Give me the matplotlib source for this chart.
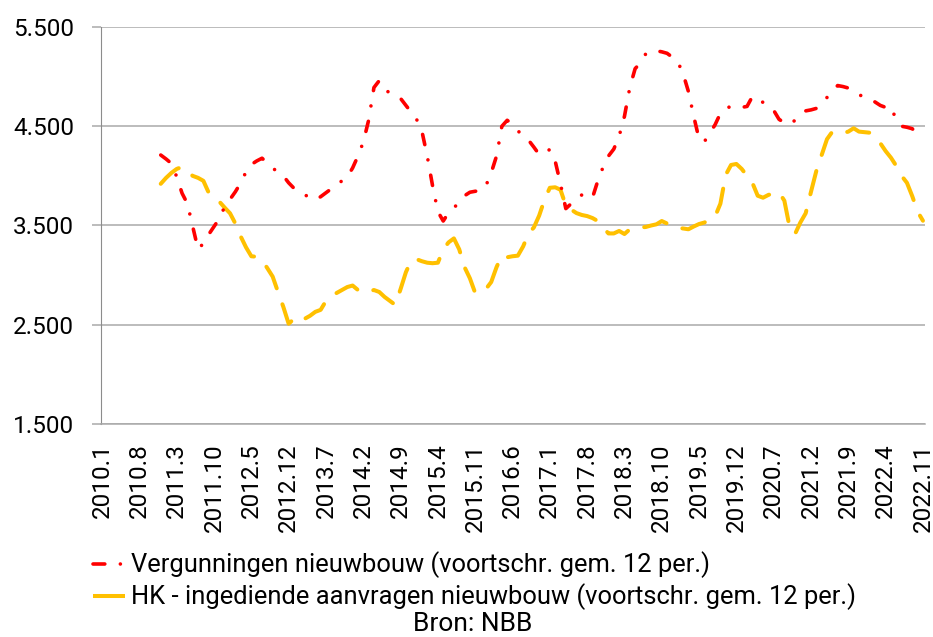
import matplotlib
matplotlib.use('Agg')
import matplotlib.pyplot as plt
from matplotlib.lines import Line2D
from matplotlib.ticker import FuncFormatter
import numpy as np

plt.rcParams['font.family'] = ['Roboto', 'DejaVu Sans']
plt.rcParams['lines.scale_dashes'] = False

# ---- data -------------------------------------------------------------
# monthly categories 2010.1 .. 2022.11 (155 months), labelled every 7th month
n_months = 155
tick_labels = ["2010.1", "2010.8", "2011.3", "2011.10", "2012.5", "2012.12",
               "2013.7", "2014.2", "2014.9", "2015.4", "2015.11", "2016.6",
               "2017.1", "2017.8", "2018.3", "2018.10", "2019.5", "2019.12",
               "2020.7", "2021.2", "2021.9", "2022.4", "2022.11"]
tick_step = 7

# both series start at 2010.12 (index 11): 12-month moving averages
series_start = 11

vergunningen = [
    4210, 4170, 4125, 3990, 3825, 3720, 3490, 3260, 3320, 3410,
    3490, 3570, 3690, 3764, 3840, 3930, 4040, 4115, 4150, 4178,
    4130, 4080, 4035, 4000, 3930, 3875, 3840, 3810, 3780, 3760,
    3790, 3830, 3870, 3910, 3950, 3990, 4080, 4200, 4340, 4560,
    4890, 4960, 4880, 4830, 4800, 4780, 4710, 4640, 4570, 4450,
    4200, 3900, 3640, 3545, 3630, 3680, 3730, 3800, 3835, 3845,
    3850, 3900, 4030, 4200, 4500, 4560, 4520, 4455, 4400, 4360,
    4290, 4215, 4240, 4265, 4150, 3920, 3670, 3720, 3770, 3808,
    3780, 3780, 3950, 4090, 4200, 4270, 4400, 4600, 4890, 5080,
    5140, 5230, 5255, 5260, 5250, 5235, 5195, 5150, 5030, 4850,
    4600, 4370, 4345, 4430, 4515, 4630, 4680, 4700, 4700, 4690,
    4700, 4800, 4780, 4740, 4700, 4660, 4570, 4535, 4520, 4560,
    4610, 4655, 4665, 4680, 4730, 4790, 4860, 4910, 4900, 4885,
    4850, 4820, 4790, 4765, 4745, 4710, 4690, 4700, 4560, 4500,
    4490, 4475, 4420, 4370]

hk_aanvragen = [
    3920, 3980, 4030, 4070, 4090, 4040, 4000, 3980, 3950, 3830,
    3770, 3740, 3680, 3623, 3520, 3390, 3280, 3190, 3185, 3150,
    3070, 2985, 2830, 2680, 2510, 2560, 2590, 2560, 2590, 2630,
    2650, 2740, 2780, 2820, 2850, 2880, 2895, 2850, 2825, 2835,
    2850, 2830, 2780, 2740, 2700, 2860, 3030, 3150, 3160, 3140,
    3125, 3120, 3125, 3260, 3330, 3370, 3260, 3080, 2968, 2820,
    2840, 2860, 2930, 3080, 3200, 3180, 3190, 3196, 3290, 3420,
    3480, 3600, 3760, 3880, 3885, 3860, 3700, 3660, 3625, 3606,
    3595, 3575, 3545, 3480, 3420, 3420, 3445, 3414, 3462, 3472,
    3480, 3485, 3500, 3512, 3545, 3520, 3490, 3475, 3470, 3462,
    3490, 3515, 3530, 3563, 3590, 3720, 4010, 4110, 4120, 4070,
    4000, 3930, 3800, 3780, 3808, 3825, 3835, 3750, 3480, 3414,
    3530, 3623, 3840, 4050, 4211, 4370, 4445, 4435, 4430, 4446,
    4480, 4446, 4440, 4435, 4400, 4329, 4250, 4183, 4100, 4000,
    3930, 3795, 3640, 3548]

label_red = "Vergunningen nieuwbouw (voortschr. gem. 12 per.)"
label_yellow = "HK - ingediende aanvragen nieuwbouw (voortschr. gem. 12 per.)"
source_text = "Bron: NBB"

yticks = [1500, 2500, 3500, 4500, 5500]

# ---- plot -------------------------------------------------------------
RED = '#FF0000'
YELLOW = '#FFC000'
GRID = '#a9a9a9'

fig = plt.figure(figsize=(9.33, 6.37), dpi=100)
ax = fig.add_axes([0.1083, 0.3344, 0.8832, 0.6232])

x_red = np.arange(series_start, series_start + len(vergunningen))
x_yel = np.arange(series_start, series_start + len(hk_aanvragen))

red_style = (0, (7.5, 11.2, 0.01, 11.2))
yel_style = (0, (17.3, 12.2))

ax.plot(x_yel, hk_aanvragen, color=YELLOW, lw=2.9, linestyle=yel_style,
        dash_capstyle='round', solid_capstyle='round', zorder=3)
ax.plot(x_red, vergunningen, color=RED, lw=2.6, linestyle=red_style,
        dash_capstyle='round', solid_capstyle='round', zorder=4)

ax.set_xlim(-0.2, 154.4)
ax.set_ylim(1500, 5500)
ax.set_yticks(yticks)
ax.yaxis.set_major_formatter(FuncFormatter(lambda v, p: f"{v:,.0f}".replace(',', '.')))
ax.set_xticks(np.arange(0, n_months, tick_step), tick_labels, rotation=90)

ax.yaxis.grid(True, color=GRID, lw=1.1)
ax.set_axisbelow(True)
for s in ['top', 'right']:
    ax.spines[s].set_visible(False)
ax.spines['left'].set_color('#8c8c8c')
ax.spines['left'].set_linewidth(0.8)
ax.spines['bottom'].set_color(GRID)
ax.spines['bottom'].set_linewidth(1.1)

ax.tick_params(axis='y', length=6.5, color=GRID, width=1.1, pad=13,
               labelsize=17.5, labelcolor='black')
ax.tick_params(axis='x', length=0, pad=14, labelsize=17.5, labelcolor='black')

handles = [
    Line2D([], [], color=RED, lw=2.6, linestyle=(0, (8.5, 11.2, 0.01, 11.2)),
           dash_capstyle='round'),
    Line2D([], [], color=YELLOW, lw=2.9, linestyle='-', solid_capstyle='butt'),
]
fig.legend(handles, [label_red, label_yellow], loc='upper left',
           bbox_to_anchor=(0.0997, 0.134), frameon=False, fontsize=18.4,
           handlelength=1.27, handletextpad=0.2, labelspacing=0.2,
           borderpad=0, borderaxespad=0)

fig.text(0.507, 0.001, source_text, ha='center', va='bottom', fontsize=19)

fig.savefig('out.png', dpi=100)
